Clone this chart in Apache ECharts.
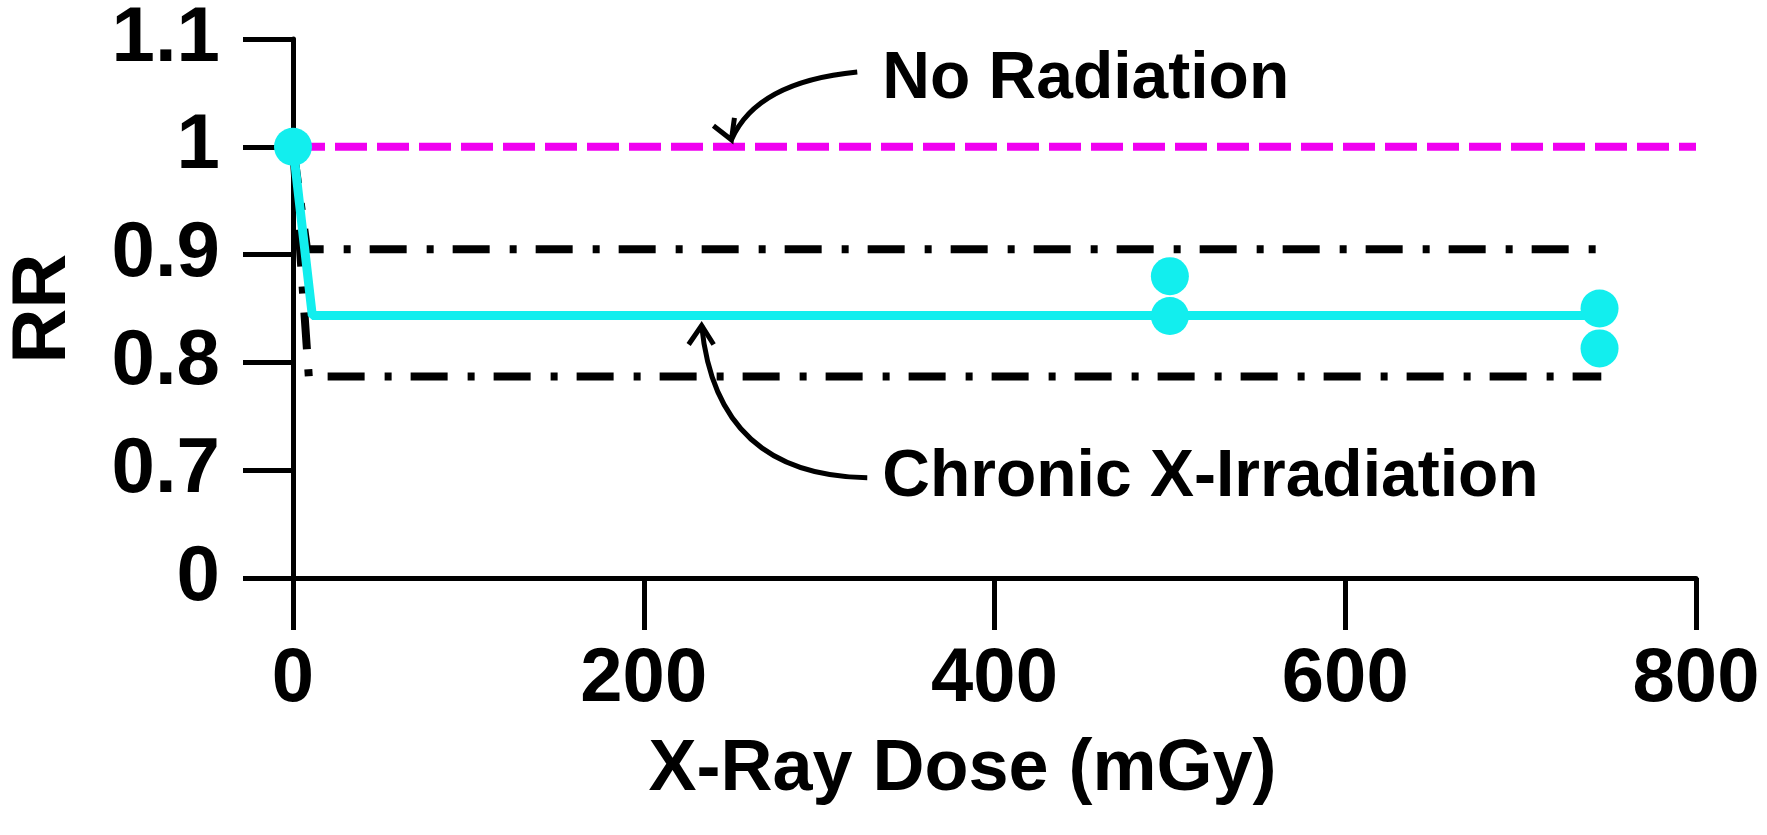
<!DOCTYPE html>
<html>
<head>
<meta charset="utf-8">
<title>RR vs X-Ray Dose</title>
<script src="https://cdn.jsdelivr.net/npm/echarts@6/dist/echarts.min.js"></script>
<style>
  html, body { margin: 0; padding: 0; background: #fff; overflow: hidden; }
  #main { width: 1767px; height: 835px; }
</style>
</head>
<body>
<div id="main"></div>
<script>
// data
var noRadDose = [0, 800];
var noRadRR = [1, 1];

var fitDose = [0, 11, 746];
var fitRR = [1, 0.8435, 0.8435];

var ciUpperDose = [0, 8, 746];
var ciUpperRR = [1, 0.905, 0.905];
var ciLowerDose = [0, 9, 746];
var ciLowerRR = [1, 0.787, 0.787];

var obsDose = [0, 500, 500, 745, 745];
var obsRR = [1, 0.88, 0.843, 0.85, 0.813];

// broken y axis: lowest tick stands for 0
var yTickLabels = ['0', '0.7', '0.8', '0.9', '1', '1.1'];

var FONT = '"Liberation Sans", Arial, Helvetica, sans-serif';
var CYAN = '#12eeee';
var MAGENTA = '#f000f0';

function zip(a, b) {
  var out = [];
  for (var i = 0; i < a.length; i++) out.push([a[i], b[i]]);
  return out;
}

var myChart = echarts.init(document.getElementById('main'));

var option = {
  animation: false,
  backgroundColor: '#fff',
  grid: { left: 293, right: 71, top: 39, bottom: 257, outerBoundsMode: 'none', containLabel: false },
  xAxis: {
    type: 'value',
    min: 0,
    max: 800,
    interval: 200,
    name: 'X-Ray Dose (mGy)',
    nameLocation: 'middle',
    nameGap: 192,
    nameTextStyle: { fontSize: 72, fontWeight: 'bold', color: '#000', fontFamily: FONT, verticalAlign: 'middle', padding: [0, 64, 0, 0] },
    axisLine: { lineStyle: { color: '#000', width: 5 } },
    axisTick: { length: 52, lineStyle: { color: '#000', width: 5 } },
    axisLabel: { fontSize: 76, fontWeight: 'bold', color: '#000', fontFamily: FONT, margin: 64 },
    splitLine: { show: false }
  },
  yAxis: {
    type: 'value',
    min: 0.6,
    max: 1.1,
    interval: 0.1,
    name: 'RR',
    nameLocation: 'middle',
    nameRotate: 90,
    nameGap: 249,
    nameTextStyle: { fontSize: 76, fontWeight: 'bold', color: '#000', fontFamily: FONT, verticalAlign: 'middle' },
    axisLine: { lineStyle: { color: '#000', width: 5 } },
    axisTick: { length: 50, lineStyle: { color: '#000', width: 5 } },
    axisLabel: {
      fontSize: 78, fontWeight: 'bold', color: '#000', fontFamily: FONT, margin: 73,
      formatter: function (v, i) { return yTickLabels[i]; }
    },
    splitLine: { show: false }
  },
  series: [{
    name: 'No Radiation',
    type: 'line',
    data: zip(noRadDose, noRadRR),
    symbol: 'none',
    z: 2,
    lineStyle: { color: MAGENTA, width: 8, type: [32, 10] }
  }, {
    name: 'CI upper',
    type: 'line',
    data: zip(ciUpperDose, ciUpperRR),
    symbol: 'none',
    z: 3,
    lineStyle: { color: '#000', width: 8, type: [37, 20, 7, 19] }
  }, {
    name: 'CI lower',
    type: 'line',
    data: zip(ciLowerDose, ciLowerRR),
    symbol: 'none',
    z: 3,
    lineStyle: { color: '#000', width: 8, type: [37, 20, 7, 19] }
  }, {
    name: 'Chronic X-Irradiation',
    type: 'line',
    data: zip(fitDose, fitRR),
    symbol: 'none',
    z: 4,
    lineStyle: { color: CYAN, width: 9 }
  }, {
    name: 'observed',
    type: 'scatter',
    data: zip(obsDose, obsRR),
    symbol: 'circle',
    symbolSize: 38,
    z: 5,
    itemStyle: { color: CYAN, opacity: 1 }
  }]
};

myChart.setOption(option);

// annotations placed from data coords
function px(d, r) { return myChart.convertToPixel({ gridIndex: 0 }, [d, r]); }

function arrow(tail, ctrl, tip, up) {
  var pts = up
    ? [[tip[0] - 13, tip[1] + 19], [tip[0], tip[1]], [tip[0] + 12, tip[1] + 19]]
    : [[tip[0] - 18, tip[1] - 14], [tip[0], tip[1]], [tip[0] + 3, tip[1] - 22]];
  return [{
    type: 'bezierCurve',
    shape: { x1: tail[0], y1: tail[1], cpx1: ctrl[0], cpy1: ctrl[1], x2: tip[0], y2: tip[1] },
    style: { stroke: '#000', lineWidth: 5, fill: null },
    z: 10
  }, {
    type: 'polyline',
    shape: { points: pts },
    style: { stroke: '#000', lineWidth: 5, fill: null, lineJoin: 'miter' },
    z: 10
  }];
}

var t1 = px(250, 1); t1[1] -= 7;
var t2 = px(233, 0.8435); t2[1] += 10;
var lbl1 = px(336, 1.062);
var lbl2 = px(336, 0.693);

var els = [];
els = els.concat(arrow([lbl1[0] - 25, lbl1[1] - 8], [t1[0] + 25, t1[1] - 58], t1, false));
els = els.concat(arrow([lbl2[0] - 15, lbl2[1]], [t2[0] + 15, lbl2[1] - 2], t2, true));
els.push({
  type: 'text', z: 10,
  style: { text: 'No Radiation', x: lbl1[0], y: lbl1[1], font: 'bold 66px ' + FONT, fill: '#000',
    align: 'left', verticalAlign: 'middle', textAlign: 'left', textVerticalAlign: 'middle' }
});
els.push({
  type: 'text', z: 10,
  style: { text: 'Chronic X-Irradiation', x: lbl2[0], y: lbl2[1], font: 'bold 66px ' + FONT, fill: '#000',
    align: 'left', verticalAlign: 'middle', textAlign: 'left', textVerticalAlign: 'middle' }
});

myChart.setOption({ graphic: els });
</script>
</body>
</html>
